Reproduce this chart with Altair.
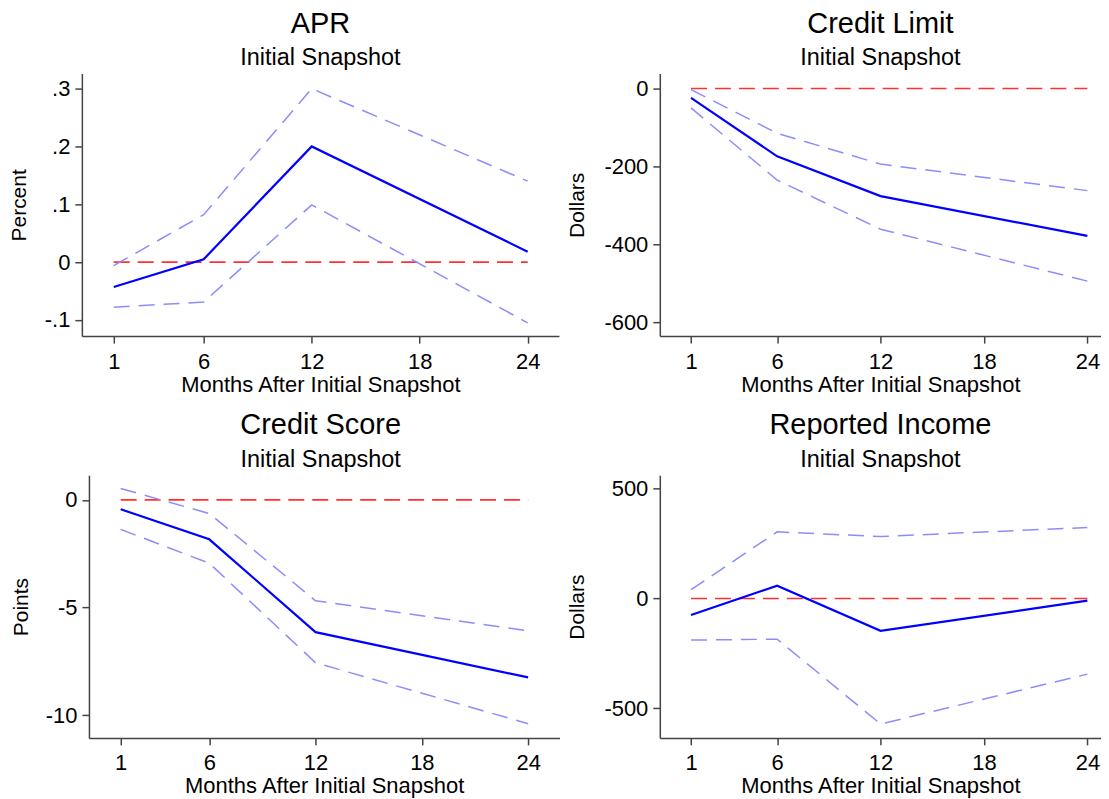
import altair as alt
import pandas as pd

# ---- data ----
data_months = [1, 6, 12, 24]
month_ticks = [1, 6, 12, 18, 24]
zero_line = [0, 0, 0, 0]

apr_est = [-0.043, 0.005, 0.200, 0.018]
apr_hi = [-0.006, 0.082, 0.300, 0.140]
apr_lo = [-0.078, -0.069, 0.099, -0.105]
apr_ticks = [-0.1, 0, 0.1, 0.2, 0.3]

cl_est = [-24, -174, -276, -378]
cl_hi = [-3, -115, -194, -262]
cl_lo = [-50, -235, -361, -494]
cl_ticks = [-600, -400, -200, 0]

cs_est = [-0.43, -1.83, -6.14, -8.24]
cs_hi = [0.53, -0.63, -4.68, -6.08]
cs_lo = [-1.37, -2.94, -7.56, -10.39]
cs_ticks = [-10, -5, 0]

ri_est = [-75, 58, -147, -10]
ri_hi = [40, 303, 282, 323]
ri_lo = [-189, -185, -571, -344]
ri_ticks = [-500, 0, 500]

FONT = "Liberation Sans"
EST_COLOR = "#0000ff"
CI_COLOR = "#8c8cff"
ZERO_COLOR = "#ff3030"


def panel(title, ytitle, est, lo, hi, ydom, yticks, label_expr, width, xdom, ytitle_pad,
          xtitle_pad, xrange=None, yoffset=0):
    df = pd.DataFrame({"month": data_months, "est": est, "lo": lo, "hi": hi, "zero": zero_line})
    if xrange is None:
        xs = alt.Scale(domain=xdom, nice=False, zero=False)
    else:
        xs = alt.Scale(domain=xdom, range=xrange, nice=False, zero=False)
    ys = alt.Scale(domain=ydom, nice=False, zero=False)
    xaxis = alt.Axis(values=month_ticks, title="Months After Initial Snapshot", grid=False,
                     tickSize=7, labelPadding=8, titlePadding=xtitle_pad, labelFontSize=22, titleFontSize=22,
                     labelFont=FONT, titleFont=FONT, labelColor="black", titleColor="black",
                     domainColor="#444444", tickColor="#444444", domainWidth=1.5, tickWidth=1.5,
                     titleFontWeight="normal", labelFlush=False)
    yaxis = alt.Axis(values=yticks, title=ytitle, grid=False, labelExpr=label_expr,
                     tickSize=7, labelPadding=5, titlePadding=ytitle_pad, labelFontSize=22, titleFontSize=21,
                     labelFont=FONT, titleFont=FONT, labelColor="black", titleColor="black",
                     domainColor="#444444", tickColor="#444444", domainWidth=1.5, tickWidth=1.5,
                     titleFontWeight="normal", labelFlush=False, offset=yoffset)
    base = alt.Chart(df)
    zero = base.mark_line(color=ZERO_COLOR, strokeDash=[16, 8], strokeWidth=1.6).encode(
        x=alt.X("month:Q", scale=xs, axis=xaxis),
        y=alt.Y("zero:Q", scale=ys, axis=yaxis),
    )
    hi_l = base.mark_line(color=CI_COLOR, strokeDash=[16, 9], strokeWidth=1.5).encode(
        x=alt.X("month:Q", scale=xs, axis=xaxis), y=alt.Y("hi:Q", scale=ys, axis=yaxis))
    lo_l = base.mark_line(color=CI_COLOR, strokeDash=[16, 9], strokeWidth=1.5).encode(
        x=alt.X("month:Q", scale=xs, axis=xaxis), y=alt.Y("lo:Q", scale=ys, axis=yaxis))
    est_l = base.mark_line(color=EST_COLOR, strokeWidth=2.2).encode(
        x=alt.X("month:Q", scale=xs, axis=xaxis), y=alt.Y("est:Q", scale=ys, axis=yaxis))
    return alt.layer(zero, hi_l, lo_l, est_l).properties(
        width=width, height=263,
        title=alt.TitleParams(text=title, subtitle="Initial Snapshot", fontSize=29, subtitleFontSize=23.5,
                              font=FONT, subtitleFont=FONT, fontWeight="normal", subtitleFontWeight="normal",
                              color="black", subtitleColor="black", anchor="middle", frame="group",
                              offset=4, subtitlePadding=7.5),
    )


simple = "'' + datum.value"
apr_expr = "replace('' + datum.value, '0.', '.')"

p1 = panel("APR", "Percent", apr_est, apr_lo, apr_hi, [-0.128, 0.326], apr_ticks, apr_expr,
           478, [-0.77, 25.74], 14.5, 2)
p2 = panel("Credit Limit", "Dollars", cl_est, cl_lo, cl_hi, [-635, 38], cl_ticks, simple,
           442, [-0.81, 24.79], 16.5, 2)
p3 = panel("Credit Score", "Points", cs_est, cs_lo, cs_hi, [-11.05, 1.14], cs_ticks, simple,
           478.5, [-0.79, 25.77], 14, 2, xrange=[7.1, 478.5], yoffset=-7.1)
p4 = panel("Reported Income", "Dollars", ri_est, ri_lo, ri_hi, [-634, 560], ri_ticks, simple,
           442, [-0.81, 24.79], 16.5, 2)

chart = alt.concat(
    p1, p2, p3, p4, columns=2,
    spacing={"row": 16.5, "column": 6},
).properties(padding={"left": 0, "top": 1, "right": 0, "bottom": 0}).configure_view(stroke=None)

chart.save("out.html", embed_options={"renderer": "svg", "actions": False})
